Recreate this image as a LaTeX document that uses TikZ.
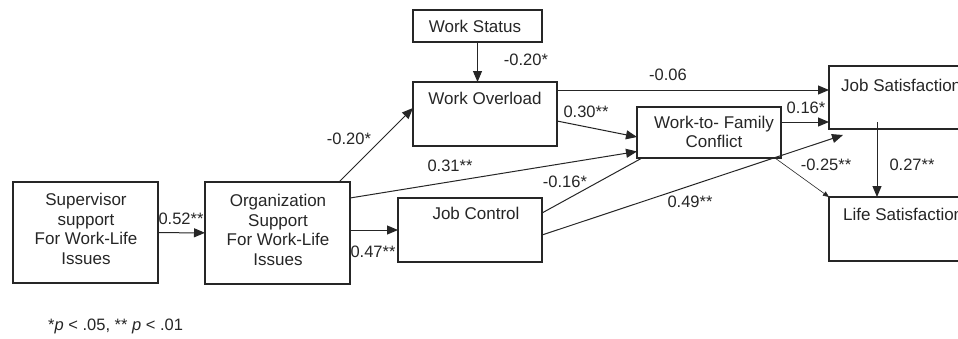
\documentclass[tikz,border=0pt]{standalone}
\usepackage{fontspec}
\setmainfont{Liberation Sans}
\usetikzlibrary{arrows.meta}
\tikzset{
  box/.style={draw=black!85, line width=1.1pt, inner sep=0pt, outer sep=0pt},
  txt/.style={inner sep=0pt, align=center, font=\fontsize{17}{19.5}\selectfont, text=black!85},
  lbl/.style={inner sep=0pt, font=\fontsize{16.5}{19}\selectfont, text=black!85},
  arr/.style={draw=black!85, line width=1pt, -{Triangle[length=11pt,width=9pt]}},
  thinarr/.style={draw=black!85, line width=0.6pt, -{Triangle[length=6pt,width=5pt]}},
  plainln/.style={draw=black!85, line width=1pt}
}
\begin{document}
\begin{tikzpicture}[x=1pt,y=-1pt]
\clip (0,0) rectangle (958,338);
\fill[white] (0,0) rectangle (958,338);
% boxes
\node[box, minimum width=145pt, minimum height=101pt] (sup) at (85.5,232.5) {};
\node[box, minimum width=145pt, minimum height=102pt] (org) at (277.5,233) {};
\node[box, minimum width=144pt, minimum height=64pt] (jc) at (470,230) {};
\node[box, minimum width=129pt, minimum height=32pt] (ws) at (477.5,26) {};
\node[box, minimum width=144pt, minimum height=64pt] (wo) at (485,114) {};
\node[box, minimum width=144pt, minimum height=51pt] (wfc) at (709,132.5) {};
\node[box, minimum width=146pt, minimum height=63pt] (js) at (902,97.5) {};
\node[box, minimum width=146pt, minimum height=64pt] (ls) at (902,229) {};
% box texts
\node[txt] (tsup) at (86,229) {Supervisor\\support\\For Work-Life\\Issues};
\node[txt] (torg) at (278,230) {Organization\\Support\\For Work-Life\\Issues};
\node[txt] (tjc) at (476,213) {Job Control};
\node[txt] (two) at (485,98) {Work Overload};
\node[txt] (tws) at (475,26) {Work Status};
\node[txt] (twfc) at (714,132) {Work-to- Family\\Conflict};
\node[txt, anchor=west] (tjs) at (841,85) {Job Satisfaction};
\node[txt, anchor=west] (tls) at (843,214) {Life Satisfaction};
% connectors
\draw[arr] (sup) -- (org);
\draw[arr] (org.east |- jc) -- (jc.west);
\draw[arr] ([xshift=-11pt]org.north east) -- ([yshift=6pt]wo.west);
\draw[arr] ([yshift=35pt]org.east) -- ([yshift=-19pt]wfc.west);
\draw[arr] ([yshift=-7pt]wo.east) -- ([yshift=-4.5pt]wfc.west);
\draw[arr] ([yshift=24pt]wo.east) -- ([yshift=7.5pt]js.west);
\draw[arr] (ws.south) -- (ws.south |- wo.north);
\draw[arr] ([yshift=10.5pt]wfc.east) -- ([yshift=-24.5pt]js.west);
\draw[plainln] ([yshift=17pt]jc.east) -- ([xshift=5pt]wfc.south west);
\draw[arr] ([yshift=-5pt]jc.east) -- ([xshift=14pt,yshift=-6pt]js.south west);
\draw[thinarr] ([xshift=-6pt]wfc.south east) -- (ls.north west);
\draw[arr] ([xshift=-25pt,yshift=7pt]js.south) -- ([xshift=-25pt]ls.north);
% labels
\node[lbl] (l1) at (181,219) {0.52**};
\node[lbl] (l2) at (373,252) {0.47**};
\node[lbl] (l3) at (349,139) {-0.20*};
\node[lbl] (l4) at (450,166) {0.31**};
\node[lbl] (l5) at (586,112) {0.30**};
\node[lbl] (l6) at (668,75) {-0.06};
\node[lbl] (l7) at (526,60) {-0.20*};
\node[lbl] (l8) at (806,108) {0.16*};
\node[lbl] (l9) at (565,182) {-0.16*};
\node[lbl] (l10) at (690,202) {0.49**};
\node[lbl] (l11) at (826,165) {-0.25**};
\node[lbl] (l12) at (912,165) {0.27**};
% footnote
\node[inner sep=0pt, anchor=west, font=\fontsize{16.5}{19}\selectfont, text=black!85] (fn) at (48,326) {*\textit{p} < .05, ** \textit{p} < .01};
\end{tikzpicture}
\end{document}
